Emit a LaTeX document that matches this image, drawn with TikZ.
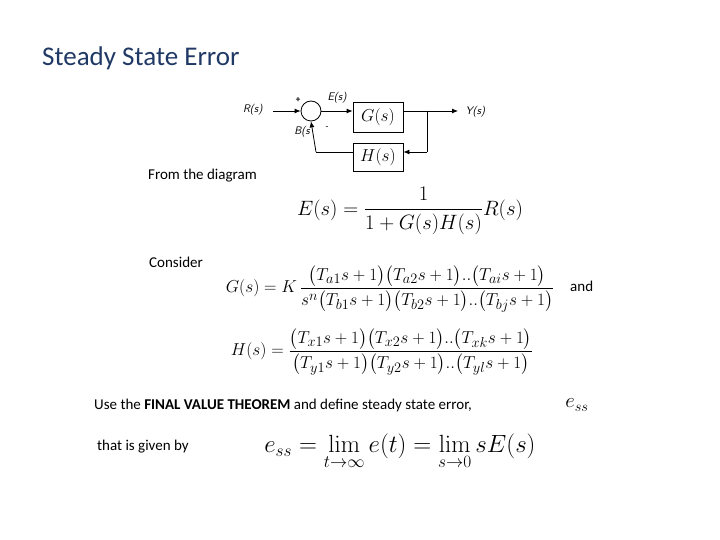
\documentclass[tikz,border=0pt]{standalone}
\usepackage{amsmath}
\usepackage[no-math]{fontspec}
\setmainfont{Carlito}
\usetikzlibrary{arrows.meta}
\definecolor{titleblue}{RGB}{31,56,100}
\begin{document}
\begin{tikzpicture}[x=1pt,y=-1pt,
  blk/.style={draw,thick,minimum width=50pt,minimum height=30pt,inner sep=0pt,font=\fontsize{16}{18}\selectfont},
  sig/.style={thick,-{Latex[length=6pt,width=5pt]}},
  lbl/.style={font=\fontsize{11}{13}\selectfont\sffamily\itshape},
  txt/.style={font=\fontsize{15}{18}\selectfont,anchor=west,inner sep=0pt},
  eq/.style={inner sep=0pt,font=\fontsize{21}{25}\selectfont},
  eqs/.style={inner sep=0pt,font=\fontsize{19}{23}\selectfont}]
\useasboundingbox (0,0) rectangle (720,540);
\node[font=\fontsize{27}{32}\selectfont,anchor=west,inner sep=0pt,text=titleblue] (title) at (42,58) {Steady State Error};
% block diagram
\node[draw,thick,circle,minimum size=20pt,inner sep=0pt] (sum) at (311,111) {};
\node[blk] (G) at (378,117) {$G(s)$};
\node[blk,minimum height=28pt] (H) at (378,157) {$H(s)$};
\node[lbl,anchor=east] (R) at (266,110) {R(s)};
\node[lbl,anchor=west] (Y) at (462,112) {Y(s)};
\coordinate (Rin) at (273,111);
\coordinate (Yout) at (458,111);
\coordinate (br) at (427,111);
\coordinate (brd) at (427,152);
\coordinate (fb) at (316,152);
\draw[sig] (Rin) -- (sum.west);
\draw[sig] (sum.east) -- (sum.east -| G.west);
\draw[sig] (G.east |- br) -- (Yout);
\draw[thick] (br) -- (brd);
\draw[sig] (brd) -- (brd -| H.east);
\draw[thick] (H.west |- fb) -- (fb);
\draw[sig] (fb) -- (sum.south);
\node[font=\small\bfseries] (plus) at (298,100) {+};
\node[font=\small] (minus) at (327,128) {-};
\node[lbl] (E) at (337,98) {E(s)};
\node[lbl] (B) at (302,132) {B(s};
% texts
\node[txt] (t1) at (148,176) {From the diagram};
\node[txt] (t2) at (149,262) {Consider};
\node[txt] (t3) at (570,286) {and};
\node[txt] (t4) at (94,405) {Use the \textbf{FINAL VALUE THEOREM} and define steady state error,};
\node[txt] (t5) at (97,447) {that is given by};
% equations
\node[eq] (e1) at (410,211) {$\displaystyle E(s)=\frac{1}{1+G(s)H(s)}R(s)$};
\node[eqs] (e2) at (390,289) {$\displaystyle G(s)=K\,\frac{\bigl(T_{a1}s+1\bigr)\bigl(T_{a2}s+1\bigr)..\bigl(T_{ai}s+1\bigr)}{s^{n}\bigl(T_{b1}s+1\bigr)\bigl(T_{b2}s+1\bigr)..\bigl(T_{bj}s+1\bigr)}$};
\node[eqs] (e3) at (382,352) {$\displaystyle H(s)=\frac{\bigl(T_{x1}s+1\bigr)\bigl(T_{x2}s+1\bigr)..\bigl(T_{xk}s+1\bigr)}{\bigl(T_{y1}s+1\bigr)\bigl(T_{y2}s+1\bigr)..\bigl(T_{yl}s+1\bigr)}$};
\node[eq] (e4) at (577,405) {$e_{ss}$};
\node[inner sep=0pt,font=\fontsize{25}{29}\selectfont] (e5) at (400,452) {$\displaystyle e_{ss}=\lim_{t\to\infty}e(t)=\lim_{s\to0}sE(s)$};
\end{tikzpicture}
\end{document}
